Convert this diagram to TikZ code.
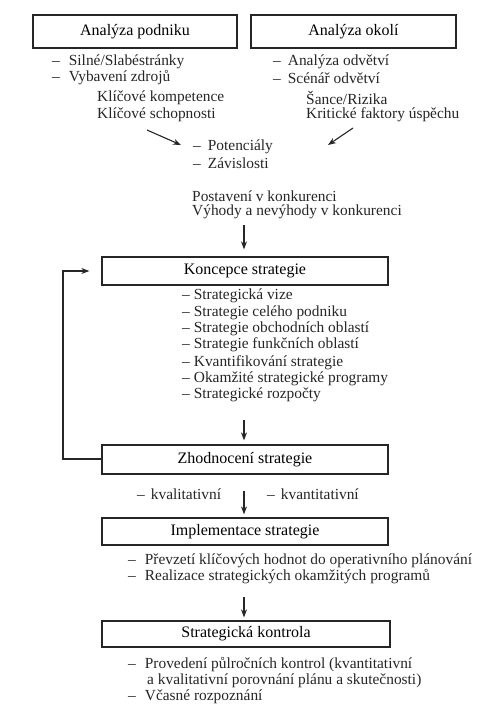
\documentclass[tikz,border=0pt]{standalone}
\usepackage{fontspec}
\setmainfont{Liberation Serif}
\usetikzlibrary{arrows.meta}
\begin{document}
\begin{tikzpicture}[x=1pt,y=-1pt,
  box/.style={draw=black!85, line width=1.3pt, inner sep=0pt, font=\fontsize{16}{18}\selectfont},
  txt/.style={anchor=west, inner sep=0pt, text=black!85, font=\fontsize{15.4}{17}\selectfont},
  arr/.style={draw=black!85, -{Stealth[length=8pt,width=6pt]}, line width=1.1pt}]
\useasboundingbox[fill=white] (0,0) rectangle (485,709);

% top boxes
\node[box, line width=1.6pt, minimum width=204pt, minimum height=33pt] (ap) at (135,31.5) {Analýza podniku};
\node[box, minimum width=205pt, minimum height=33pt] (ao) at (353.5,31.5) {Analýza okolí};

\node[txt] (l1) at (52,62) {–\hspace{9pt}Silné/Slabéstránky};
\node[txt] (l2) at (52,78) {–\hspace{9pt}Vybavení zdrojů};
\node[txt] (l3) at (97,98) {Klíčové kompetence};
\node[txt] (l4) at (97,115) {Klíčové schopnosti};

\node[txt] (r1) at (273,62) {–\hspace{7pt}Analýza odvětví};
\node[txt] (r2) at (273,78) {–\hspace{7pt}Scénář odvětví};
\node[txt] (r3) at (306,98) {Šance/Rizika};
\node[txt] (r4) at (306,115) {Kritické faktory úspěchu};

\coordinate (dl1) at (147,130);
\coordinate (dl2) at (181,145);
\coordinate (dr1) at (353,128);
\coordinate (dr2) at (328,145);
\draw[arr] (dl1) -- (dl2);
\draw[arr] (dr1) -- (dr2);

\node[txt] (p1) at (193,147) {–\hspace{7pt}Potenciály};
\node[txt] (p2) at (193,163) {–\hspace{7pt}Závislosti};

\node[txt] (k1) at (192,196) {Postavení v konkurenci};
\node[txt] (k2) at (192,212) {Výhody a nevýhody v konkurenci};

% Koncepce
\node[box, minimum width=286pt, minimum height=28pt] (ks) at (245,271) {Koncepce strategie};
\coordinate (a1) at (244,225);
\draw[arr, shorten >=7pt] (a1) -- (ks.north -| a1);

\node[txt] (s1) at (182,296) {–\hspace{4pt}Strategická vize};
\node[txt] (s2) at (182,313) {–\hspace{4pt}Strategie celého podniku};
\node[txt] (s3) at (182,329) {–\hspace{4pt}Strategie obchodních oblastí};
\node[txt] (s4) at (182,345) {–\hspace{4pt}Strategie funkčních oblastí};
\node[txt] (s5) at (182,363) {–\hspace{4pt}Kvantifikování strategie};
\node[txt] (s6) at (182,379) {–\hspace{4pt}Okamžité strategické programy};
\node[txt] (s7) at (182,395) {–\hspace{4pt}Strategické rozpočty};

% Zhodnoceni
\node[box, minimum width=286pt, minimum height=29pt] (zs) at (245,459.5) {Zhodnocení strategie};
\coordinate (a2) at (244,420);
\draw[arr, shorten >=4pt] (a2) -- (zs.north -| a2);

% feedback loop
\coordinate (fb) at (63,459);
\draw[arr, shorten >=12pt] (zs.west |- fb) -- (fb) -- (fb |- ks.west) -- (ks.west);

\node[txt] (q1) at (137,494) {–\hspace{6pt}kvalitativní};
\node[txt] (q2) at (267,494) {–\hspace{6pt}kvantitativní};

% Implementace
\node[box, minimum width=286pt, minimum height=27pt] (is) at (245,531.5) {Implementace strategie};
\coordinate (a3) at (244,491);
\draw[arr, shorten >=3pt] (a3) -- (is.north -| a3);

\node[txt] (i1) at (128,561) {–\hspace{9pt}Převzetí klíčových hodnot do operativního plánování};
\node[txt] (i2) at (128,577) {–\hspace{9pt}Realizace strategických okamžitých programů};

% Kontrola
\node[box, minimum width=288pt, minimum height=26pt] (sk) at (246,634) {Strategická kontrola};
\coordinate (a4) at (244,597);
\draw[arr, shorten >=3pt] (a4) -- (sk.north -| a4);

\node[txt] (c1) at (128,665) {–\hspace{9pt}Provedení půlročních kontrol (kvantitativní};
\node[txt] (c2) at (147,681) {a kvalitativní porovnání plánu a skutečnosti)};
\node[txt] (c3) at (128,697) {–\hspace{9pt}Včasné rozpoznání};
\end{tikzpicture}
\end{document}
